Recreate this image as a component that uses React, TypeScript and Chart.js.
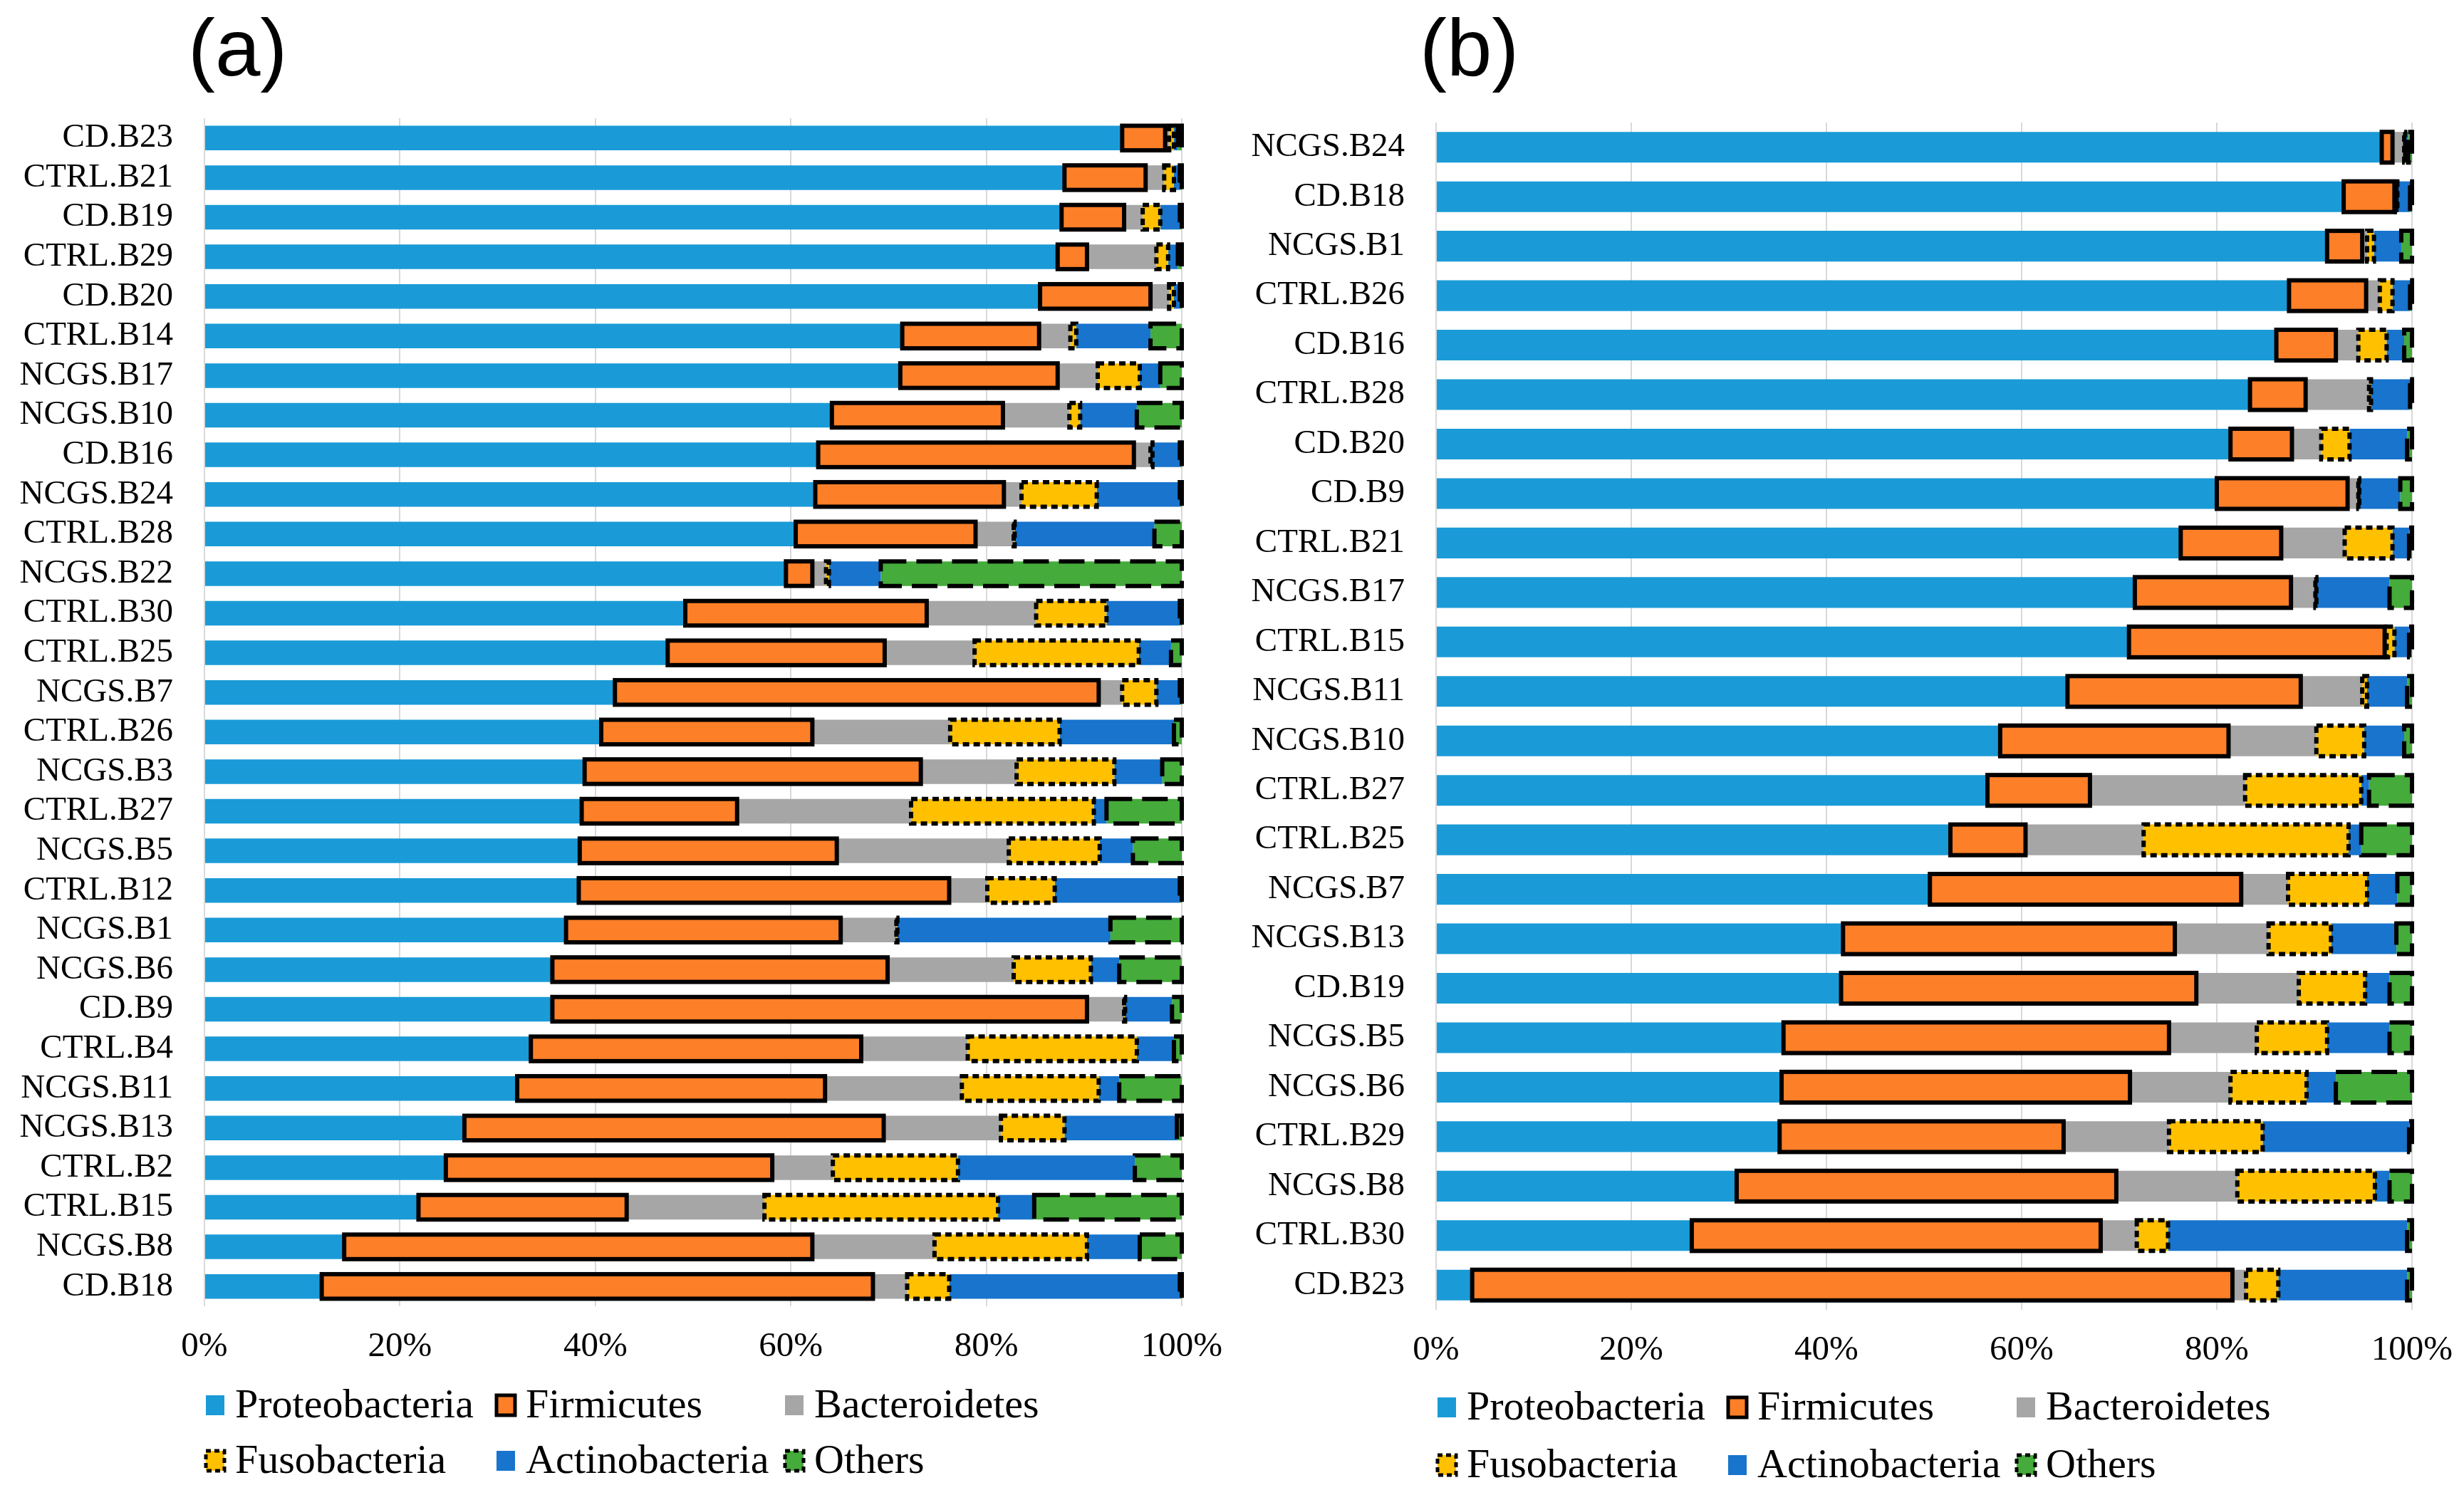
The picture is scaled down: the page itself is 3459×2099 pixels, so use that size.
import React, { useEffect, useRef } from "react";
import { Chart, registerables } from "chart.js";

Chart.register(...registerables);

// ---------- DATA ----------
const SERIES_NAMES = ["Proteobacteria", "Firmicutes", "Bacteroidetes", "Fusobacteria", "Actinobacteria", "Others"];
const SERIES_COLORS = ["#1a9bd7", "#fd7f28", "#a6a6a6", "#ffc000", "#1874cd", "#45ab3b"];
// outline style per series: null = none, [] = solid, array = dash pattern
const SERIES_OUTLINE: (number[] | null)[] = [null, [], null, [9, 6], null, [36, 14]];

const X_TICK_STEP = 20;

const LABELS_A = [
  "CD.B23", "CTRL.B21", "CD.B19", "CTRL.B29", "CD.B20", "CTRL.B14", "NCGS.B17", "NCGS.B10", "CD.B16", "NCGS.B24",
  "CTRL.B28", "NCGS.B22", "CTRL.B30", "CTRL.B25", "NCGS.B7", "CTRL.B26", "NCGS.B3", "CTRL.B27", "NCGS.B5", "CTRL.B12",
  "NCGS.B1", "NCGS.B6", "CD.B9", "CTRL.B4", "NCGS.B11", "NCGS.B13", "CTRL.B2", "CTRL.B15", "NCGS.B8", "CD.B18",
];
const PROTEO_A = [93.9, 88.0, 87.7, 87.3, 85.5, 71.4, 71.2, 64.2, 62.8, 62.5, 60.5, 59.5, 49.2, 47.4, 42.0, 40.6, 38.9, 38.6, 38.4, 38.3, 37.0, 35.6, 35.6, 33.4, 32.0, 26.6, 24.7, 21.9, 14.3, 12.0];
const FIRM_A = [4.4, 8.3, 6.4, 3.0, 11.3, 14.0, 16.1, 17.5, 32.3, 19.3, 18.4, 2.7, 24.7, 22.2, 49.5, 21.6, 34.4, 15.9, 26.3, 37.9, 28.1, 34.3, 54.7, 33.8, 31.5, 42.9, 33.4, 21.3, 47.9, 56.4];
const BACT_A = [0.4, 1.9, 1.9, 7.1, 1.9, 3.2, 4.1, 6.8, 1.7, 1.8, 3.9, 1.4, 11.2, 9.2, 2.4, 14.1, 9.8, 17.8, 17.6, 3.9, 5.7, 12.9, 3.8, 10.9, 14.0, 12.0, 6.2, 14.1, 12.5, 3.5];
const FUSO_A = [0.5, 1.0, 1.8, 1.2, 0.5, 0.6, 4.3, 1.1, 0.2, 7.7, 0.1, 0.3, 7.2, 16.8, 3.5, 11.2, 10.0, 18.7, 9.3, 6.9, 0.1, 7.9, 0.1, 17.3, 14.0, 6.5, 12.8, 23.9, 15.6, 4.3];
const ACTINO_A = [0.4, 0.6, 2.0, 1.0, 0.6, 7.6, 2.1, 5.8, 2.8, 8.5, 14.3, 5.3, 7.5, 3.3, 2.4, 11.7, 4.9, 1.3, 3.4, 12.8, 21.8, 2.9, 4.8, 3.8, 2.1, 11.5, 18.1, 3.7, 5.4, 23.6];
const OTHERS_A = [0.4, 0.2, 0.2, 0.4, 0.2, 3.2, 2.2, 4.6, 0.2, 0.2, 2.8, 30.8, 0.2, 1.1, 0.2, 0.8, 2.0, 7.7, 5.0, 0.2, 7.3, 6.4, 1.0, 0.8, 6.4, 0.5, 4.8, 15.1, 4.3, 0.2];

const LABELS_B = [
  "NCGS.B24", "CD.B18", "NCGS.B1", "CTRL.B26", "CD.B16", "CTRL.B28", "CD.B20", "CD.B9", "CTRL.B21", "NCGS.B17",
  "CTRL.B15", "NCGS.B11", "NCGS.B10", "CTRL.B27", "CTRL.B25", "NCGS.B7", "NCGS.B13", "CD.B19", "NCGS.B5", "NCGS.B6",
  "CTRL.B29", "NCGS.B8", "CTRL.B30", "CD.B23",
];
const PROTEO_B = [96.9, 93.0, 91.3, 87.4, 86.1, 83.4, 81.4, 80.0, 76.3, 71.6, 71.0, 64.7, 57.8, 56.5, 52.7, 50.6, 41.7, 41.5, 35.6, 35.4, 35.2, 30.8, 26.2, 3.7];
const FIRM_B = [1.1, 5.2, 3.6, 7.9, 6.1, 5.7, 6.3, 13.4, 10.3, 16.0, 26.2, 23.9, 23.4, 10.5, 7.7, 31.9, 34.0, 36.4, 39.5, 35.7, 29.1, 38.9, 41.9, 77.9];
const BACT_B = [1.2, 0.2, 0.5, 1.4, 2.3, 6.5, 3.0, 1.1, 6.5, 2.5, 0.2, 6.3, 9.0, 15.9, 12.1, 4.8, 9.6, 10.5, 9.0, 10.3, 10.8, 12.4, 3.7, 1.4];
const FUSO_B = [0.1, 0.1, 0.7, 1.3, 2.9, 0.2, 2.9, 0.1, 4.9, 0.1, 0.8, 0.5, 4.9, 11.9, 21.0, 8.1, 6.4, 6.8, 7.2, 7.8, 9.6, 14.1, 3.2, 3.3];
const ACTINO_B = [0.3, 1.3, 2.8, 1.8, 1.8, 4.0, 5.9, 4.2, 1.7, 7.5, 1.5, 4.1, 4.1, 0.8, 1.3, 3.1, 6.7, 2.5, 6.4, 3.0, 15.0, 1.5, 24.5, 13.2];
const OTHERS_B = [0.4, 0.2, 1.1, 0.2, 0.8, 0.2, 0.5, 1.2, 0.3, 2.3, 0.3, 0.5, 0.8, 4.4, 5.2, 1.5, 1.6, 2.3, 2.3, 7.8, 0.3, 2.3, 0.5, 0.5];

// ---------- PLUGINS ----------
const outlinePlugin = {
  id: "segmentOutlines",
  afterDatasetsDraw(chart: any) {
    const ctx = chart.ctx;
    chart.data.datasets.forEach((ds: any, i: number) => {
      const dash = ds.outlineDash;
      if (!dash) return;
      const meta = chart.getDatasetMeta(i);
      ctx.save();
      ctx.strokeStyle = "#000";
      ctx.lineWidth = 6;
      ctx.setLineDash(dash);
      meta.data.forEach((el: any) => {
        const p = el.getProps(["x", "y", "base", "height"], true);
        const left = Math.min(p.x, p.base);
        const w = Math.abs(p.x - p.base);
        ctx.strokeRect(left, p.y - p.height / 2, w, p.height);
      });
      ctx.restore();
    });
  },
};

const decorPlugin = {
  id: "panelDecor",
  afterDraw(chart: any) {
    const opts = chart.options.plugins.panelDecor;
    if (!opts) return;
    const ctx = chart.ctx;
    const left = chart.chartArea.left;
    ctx.save();
    // panel title
    ctx.fillStyle = "#000";
    ctx.font = "114px 'Liberation Sans', Arial, sans-serif";
    ctx.textBaseline = "alphabetic";
    ctx.textAlign = "left";
    ctx.fillText(opts.title, opts.titleX, opts.titleY);
    // legend
    const cols = [2, 410, 815];
    ctx.font = "58px 'Liberation Serif', 'Times New Roman', serif";
    ctx.textBaseline = "middle";
    SERIES_NAMES.forEach((name, i) => {
      const row = Math.floor(i / 3);
      const col = i % 3;
      const bx = left + cols[col];
      const cy = opts.legendRows[row];
      const bw = 26;
      const bh = 28;
      ctx.fillStyle = SERIES_COLORS[i];
      ctx.fillRect(bx, cy - bh / 2, bw, bh);
      const dash = SERIES_OUTLINE[i];
      if (dash) {
        ctx.strokeStyle = "#000";
        ctx.lineWidth = 5;
        ctx.setLineDash(dash.length ? [7, 5] : []);
        ctx.strokeRect(bx, cy - bh / 2, bw, bh);
        ctx.setLineDash([]);
      }
      ctx.fillStyle = "#000";
      ctx.fillText(name, bx + 41, cy + 2);
    });
    ctx.restore();
  },
};

type PanelProps = {
  labels: string[];
  series: number[][];
  title: string;
  left: number;
  width: number;
  padRight: number;
  padTop: number;
  padBottom: number;
  legendRows: number[];
};

function Panel(props: PanelProps) {
  const ref = useRef<HTMLCanvasElement | null>(null);
  useEffect(() => {
    if (!ref.current) return;
    const datasets = props.series.map((vals, i) => ({
      label: SERIES_NAMES[i],
      data: vals,
      backgroundColor: SERIES_COLORS[i],
      borderWidth: 0,
      barPercentage: 0.62,
      categoryPercentage: 1.0,
      outlineDash: SERIES_OUTLINE[i],
    }));
    const chart = new Chart(ref.current, {
      type: "bar",
      data: { labels: props.labels, datasets: datasets as any },
      plugins: [outlinePlugin, decorPlugin],
      options: {
        indexAxis: "y",
        animation: false,
        responsive: false,
        devicePixelRatio: 1,
        layout: { padding: { left: 0, right: props.padRight, top: props.padTop, bottom: props.padBottom } },
        plugins: {
          legend: { display: false },
          tooltip: { enabled: false },
          panelDecor: { title: props.title, titleX: 264, titleY: 106, legendRows: props.legendRows },
        } as any,
        scales: {
          x: {
            stacked: true,
            min: 0,
            max: 100,
            grid: { color: "#d9d9d9", lineWidth: 2, drawTicks: false },
            border: { display: false },
            ticks: {
              stepSize: X_TICK_STEP,
              padding: 28,
              color: "#000",
              font: { family: "'Liberation Serif', 'Times New Roman', serif", size: 49 },
              callback: (v: any) => `${v}%`,
            },
            afterFit: (s: any) => {
              s.height = 100;
              s.paddingLeft = 0;
              s.paddingRight = 0;
            },
          },
          y: {
            stacked: true,
            grid: { display: false, drawTicks: false },
            border: { display: false },
            ticks: {
              padding: 44,
              color: "#000",
              autoSkip: false,
              font: { family: "'Liberation Serif', 'Times New Roman', serif", size: 47 },
            },
            afterFit: (s: any) => {
              s.width = 287;
              s.paddingTop = 0;
              s.paddingBottom = 0;
            },
          },
        },
      },
    });
    return () => chart.destroy();
  }, []);
  return (
    <canvas
      ref={ref}
      width={props.width}
      height={2099}
      style={{ position: "absolute", left: props.left, top: 0, width: props.width, height: 2099 }}
    />
  );
}

export default function App() {
  useEffect(() => {
    document.body.style.margin = "0";
    document.body.style.background = "#fff";
  }, []);
  return (
    <div style={{ position: "relative", width: 3459, height: 2099, background: "#fff", overflow: "hidden" }}>
      <Panel
        labels={LABELS_A}
        series={[PROTEO_A, FIRM_A, BACT_A, FUSO_A, ACTINO_A, OTHERS_A]}
        title="(a)"
        left={0}
        width={1729}
        padRight={70}
        padTop={166}
        padBottom={165}
        legendRows={[1973, 2051]}
      />
      <Panel
        labels={LABELS_B}
        series={[PROTEO_B, FIRM_B, BACT_B, FUSO_B, ACTINO_B, OTHERS_B]}
        title="(b)"
        left={1729}
        width={1730}
        padRight={73}
        padTop={172}
        padBottom={160}
        legendRows={[1976, 2057]}
      />
    </div>
  );
}
